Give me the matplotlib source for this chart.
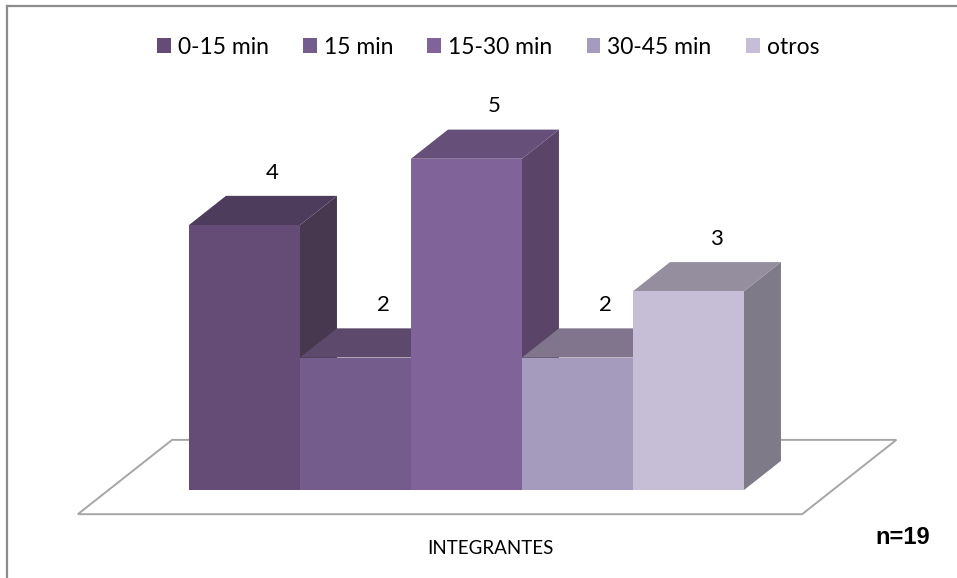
import matplotlib.pyplot as plt
from matplotlib.patches import Polygon, Patch
from matplotlib.lines import Line2D

plt.rcParams['font.family'] = ['Lato', 'DejaVu Sans']

categorias = ["0-15 min", "15 min", "15-30 min", "30-45 min", "otros"]
valores = [4, 2, 5, 2, 3]
frente = ["#654c76", "#745c8d", "#806499", "#a59bbc", "#c6bed6"]
techo = ["#4e3c5c", "#5d496b", "#664f78", "#80758c", "#948e9e"]
lado = ["#47384f", "#54425f", "#5a4468", "#737083", "#7e7a88"]

# oblique projection: depth z shifts right and up
DX, DY = 0.333, 0.44


def proj(x, y, z):
    return (x + z * DX, y + z * DY)


fig = plt.figure(figsize=(9.57, 5.78), dpi=100)
ax = fig.add_axes([0, 0, 1, 1])
ax.set_xlim(-189 / 111, (957 - 189) / 111)
ax.set_ylim((490 - 578) / 66.25, 490 / 66.25)
ax.axis('off')

# floor
x0, x1 = -0.725, len(valores) + 0.8
z0, z1 = -0.83, 1.72
piso = [proj(x0, 0, z0), proj(x1, 0, z0), proj(x1, 0, z1), proj(x0, 0, z1)]
ax.add_patch(Polygon(piso, closed=True, facecolor='white', edgecolor='#a6a6a6',
                     lw=1.4, zorder=1))

# bars, left to right so each one covers the previous side face
for i, v in enumerate(valores):
    zb = 2 + i * 3
    side = [proj(i + 1, 0, 0), proj(i + 1, 0, 1), proj(i + 1, v, 1), proj(i + 1, v, 0)]
    top = [proj(i, v, 0), proj(i + 1, v, 0), proj(i + 1, v, 1), proj(i, v, 1)]
    front = [(i, 0), (i + 1, 0), (i + 1, v), (i, v)]
    ax.add_patch(Polygon(side, closed=True, facecolor=lado[i], edgecolor='none', zorder=zb))
    ax.add_patch(Polygon(top, closed=True, facecolor=techo[i], edgecolor='none', zorder=zb + 1))
    ax.add_patch(Polygon(front, closed=True, facecolor=frente[i], edgecolor='none', zorder=zb + 2))
    ax.annotate(str(v), proj(i + 0.5, v, 0.75), xytext=(0, 22), textcoords='offset points',
                ha='center', va='center', fontsize=16, color='black', zorder=30)

handles = [Patch(facecolor=c, edgecolor='none') for c in frente]
fig.legend(handles, categorias, loc='center', bbox_to_anchor=(488 / 957, 1 - 47 / 578),
           ncol=5, frameon=False, fontsize=16.5, handlelength=0.6, handleheight=0.6,
           handletextpad=0.3, columnspacing=1.5)

fig.text(490 / 957, 1 - 548 / 578, "INTEGRANTES", ha='center', va='center', fontsize=13.5)
fig.text(903 / 957, 1 - 538 / 578, "n=19", ha='center', va='center', fontsize=17,
         fontweight='bold', family=['Liberation Sans', 'DejaVu Sans'])

# outer frame
fig.add_artist(Line2D([7 / 957, 1], [1 - 6 / 578, 1 - 6 / 578], color='#8c8c8c', lw=1.6))
fig.add_artist(Line2D([7 / 957, 7 / 957], [0, 1 - 6 / 578], color='#8c8c8c', lw=1.6))

fig.savefig('out.png', dpi=100)
